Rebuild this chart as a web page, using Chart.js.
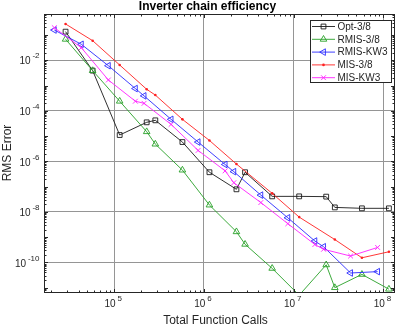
<!DOCTYPE html>
<html><head><meta charset="utf-8">
<script src="https://cdn.jsdelivr.net/npm/chart.js@4.4.1/dist/chart.umd.min.js"></script>
<style>html,body{margin:0;padding:0;background:#fff;}#wrap{width:399px;height:327px;}</style>
</head><body><div id="wrap"><canvas id="c" width="399" height="327"></canvas></div>
<script>
// ---- data ----
const seriesNames = ['Opt-3/8', 'RMIS-3/8', 'RMIS-KW3', 'MIS-3/8', 'MIS-KW3'];
const calls38 = [2.87e4, 5.75e4, 1.15e5, 2.3e5, 2.87e5, 5.75e5, 1.15e6, 2.3e6, 2.87e6, 5.75e6, 1.15e7, 2.3e7, 2.87e7, 5.75e7, 1.15e8];
const callsKW3 = [2.15e4, 4.3e4, 8.6e4, 1.72e5, 2.15e5, 4.3e5, 8.6e5, 1.72e6, 2.15e6, 4.3e6, 8.6e6, 1.72e7, 2.15e7, 4.3e7, 8.6e7];
const callsMIS38 = [2.87e4, 5.75e4, 1.15e5, 2.3e5, 2.87e5, 5.75e5, 1.15e6, 2.3e6, 5.75e6, 1.15e7, 2.87e7, 5.75e7, 1.15e8];
const errOpt38 = [0.136, 3.9e-3, 1.1e-5, 3.5e-5, 4.2e-5, 5.8e-6, 3.7e-7, 7.8e-8, 3.7e-7, 4.1e-8, 4.1e-8, 4.0e-8, 1.5e-8, 1.38e-8, 1.38e-8];
const errRMIS38 = [0.068, 3.9e-3, 2.4e-4, 1.49e-5, 4.8e-6, 4.5e-7, 1.86e-8, 1.63e-9, 5.2e-10, 5.8e-11, 5.0e-12, 8.0e-11, 1.0e-11, 3.35e-11, 8.7e-12];
const errRMISKW3 = [0.158, 0.043, 6.1e-3, 7.6e-4, 3.9e-4, 4.6e-5, 5.8e-6, 7.5e-7, 3.9e-7, 4.6e-8, 5.8e-9, 7.0e-10, 4.15e-10, 3.8e-11, 4.3e-11];
const errMIS38 = [0.274, 0.0597, 6.5e-3, 7.1e-4, 4.2e-4, 4.6e-5, 6.7e-6, 7.8e-7, 5.4e-8, 6.2e-9, 8.0e-10, 1.52e-10, 2.63e-10];
const errMISKW3 = [0.195, 0.0315, 1.66e-3, 2.4e-4, 1.98e-4, 2.9e-5, 2.7e-6, 4.2e-7, 1.42e-7, 2.33e-8, 3.4e-9, 5.1e-10, 3.3e-10, 1.78e-10, 3.9e-10];
const xTickExps = [5, 6, 7, 8];
const yTickExps = [-10, -8, -6, -4, -2];
const xRange = [1.68e4, 1.32e8];
const yRange = [6.3e-12, 0.68];
const titleText = 'Inverter chain efficiency';
const xTitle = 'Total Function Calls';
const yTitle = 'RMS Error';

// ---- styling ----
const FONT = "'Liberation Sans', Arial, Helvetica, sans-serif";
const AX = '#262626';
const GRID = '#959595';
const styles = [
  {color: '#1a1a1a', pointStyle: 'rect', radius: 3.4, rotation: 0, filled: false},
  {color: '#27a027', pointStyle: 'triangle', radius: 3.8, rotation: 0, filled: false},
  {color: '#2a2aff', pointStyle: 'triangle', radius: 3.8, rotation: -90, filled: false},
  {color: '#ff2020', pointStyle: 'circle', radius: 1.3, rotation: 0, filled: true},
  {color: '#ff20ff', pointStyle: 'crossRot', radius: 3.4, rotation: 0, filled: false}
];
const xsList = [calls38, calls38, callsKW3, callsMIS38, callsKW3];
const ysList = [errOpt38, errRMIS38, errRMISKW3, errMIS38, errMISKW3];

function pts(xs, ys) { return xs.map((x, i) => ({x: x, y: ys[i]})); }

const datasets = seriesNames.map((name, i) => {
  const s = styles[i];
  return {
    label: name,
    data: pts(xsList[i], ysList[i]),
    showLine: true,
    borderColor: s.color,
    borderWidth: 0.9,
    pointStyle: s.pointStyle,
    pointRotation: s.rotation,
    pointRadius: (c) => (c.raw && (c.raw.y < yRange[0] || c.raw.y > yRange[1])) ? 0 : s.radius,
    pointHoverRadius: s.radius,
    pointBorderColor: s.color,
    pointBackgroundColor: s.filled ? s.color : 'rgba(0,0,0,0)',
    pointBorderWidth: s.filled ? 0 : 0.9,
    tension: 0,
    fill: false,
    clip: 0,
    order: 5 - i
  };
});

function drawPow(ctx, exp, x, baseY, align) {
  const base = '10', ex = String(exp);
  ctx.font = '10px ' + FONT;
  const wb = ctx.measureText(base).width;
  ctx.font = '8px ' + FONT;
  const we = ctx.measureText(ex).width;
  const gap = 1.8;
  const total = wb + gap + we;
  const start = align === 'center' ? x - total / 2 : x - total;
  ctx.textAlign = 'left';
  ctx.textBaseline = 'alphabetic';
  ctx.font = '10px ' + FONT;
  ctx.fillText(base, start, baseY);
  ctx.font = '8px ' + FONT;
  ctx.fillText(ex, start + wb + gap, baseY - 6);
}

const decor = {
  id: 'decor',
  afterDraw(chart) {
    const ctx = chart.ctx, a = chart.chartArea;
    const xs = chart.scales.x, ys = chart.scales.y;
    ctx.save();
    // box
    const L = Math.floor(a.left) + 0.5, R = Math.floor(a.right) + 0.5;
    const T = Math.floor(a.top) + 0.5, B = Math.floor(a.bottom) + 0.5;
    ctx.strokeStyle = AX; ctx.lineWidth = 1;
    ctx.strokeRect(L, T, R - L, B - T);
    // ticks
    ctx.beginPath();
    const mults = [1, 2, 3, 4, 5, 6, 7, 8, 9];
    for (let e = 4; e <= 8; e++) for (const m of mults) {
      const v = m * Math.pow(10, e);
      if (v < xRange[0] || v > xRange[1]) continue;
      const p = Math.round(xs.getPixelForValue(v)) + 0.5;
      const len = m === 1 ? 3.5 : 2;
      ctx.moveTo(p, B); ctx.lineTo(p, B - len);
      ctx.moveTo(p, T); ctx.lineTo(p, T + len);
    }
    for (let e = -12; e <= 0; e++) for (const m of mults) {
      const v = m * Math.pow(10, e);
      if (v < yRange[0] || v > yRange[1]) continue;
      const p = Math.round(ys.getPixelForValue(v)) + 0.5;
      const len = m === 1 ? 3.5 : 2;
      ctx.moveTo(L, p); ctx.lineTo(L + len, p);
      ctx.moveTo(R, p); ctx.lineTo(R - len, p);
    }
    ctx.stroke();
    // tick labels
    ctx.fillStyle = AX;
    for (const e of xTickExps) {
      const p = xs.getPixelForValue(Math.pow(10, e));
      drawPow(ctx, e, p - 1, 307, 'center');
    }
    for (const e of yTickExps) {
      const p = ys.getPixelForValue(Math.pow(10, e));
      drawPow(ctx, e, 39.5, p + 4.2, 'right');
    }
    // titles
    ctx.fillStyle = '#000';
    ctx.font = 'bold 12px ' + FONT;
    ctx.textAlign = 'center'; ctx.textBaseline = 'alphabetic';
    ctx.fillText(titleText, 207.5, 10);
    ctx.fillStyle = AX;
    ctx.font = '12px ' + FONT;
    ctx.fillText(xTitle, 215.5, 324);
    ctx.save();
    ctx.translate(10.6, 153);
    ctx.rotate(-Math.PI / 2);
    ctx.fillText(yTitle, 0, 0);
    ctx.restore();
    // legend
    const lx = 310.5, ly = 20.5, lw = 81, lh = 62;
    ctx.fillStyle = '#fff';
    ctx.fillRect(lx, ly, lw, lh);
    ctx.strokeStyle = AX; ctx.lineWidth = 1;
    ctx.strokeRect(lx, ly, lw, lh);
    chart.data.datasets.forEach((d, i) => {
      const s = styles[i];
      const y = 26.5 + i * 12.8;
      ctx.strokeStyle = s.color; ctx.lineWidth = 0.9;
      ctx.beginPath(); ctx.moveTo(312, y); ctx.lineTo(335, y); ctx.stroke();
      ctx.fillStyle = s.filled ? s.color : 'rgba(0,0,0,0)';
      Chart.helpers.drawPoint(ctx, {pointStyle: s.pointStyle, rotation: s.rotation, radius: s.radius, borderWidth: s.filled ? 0 : 0.9}, 323.5, y);
      ctx.fillStyle = AX;
      ctx.font = '10px ' + FONT;
      ctx.textAlign = 'left'; ctx.textBaseline = 'middle';
      ctx.fillText(d.label, 337.5, y + 0.5);
    });
    ctx.restore();
  }
};

new Chart(document.getElementById('c'), {
  type: 'scatter',
  data: {datasets: datasets},
  options: {
    responsive: false,
    animation: false,
    devicePixelRatio: 1,
    layout: {padding: {top: 14, right: 3, left: 0, bottom: 0}},
    plugins: {legend: {display: false}, title: {display: false}, tooltip: {enabled: false}},
    scales: {
      x: {
        type: 'logarithmic', min: xRange[0], max: xRange[1],
        afterBuildTicks: (s) => { s.ticks = xTickExps.map(e => ({value: Math.pow(10, e), major: true})); },
        afterFit: (s) => { s.height = 34.3; },
        ticks: {display: false},
        grid: {color: GRID, lineWidth: 1, drawTicks: false},
        border: {display: false}
      },
      y: {
        type: 'logarithmic', min: yRange[0], max: yRange[1],
        afterBuildTicks: (s) => { s.ticks = yTickExps.map(e => ({value: Math.pow(10, e), major: true})); },
        afterFit: (s) => { s.width = 44.7; },
        ticks: {display: false},
        grid: {color: GRID, lineWidth: 1, drawTicks: false},
        border: {display: false}
      }
    }
  },
  plugins: [decor]
});
</script></body></html>
